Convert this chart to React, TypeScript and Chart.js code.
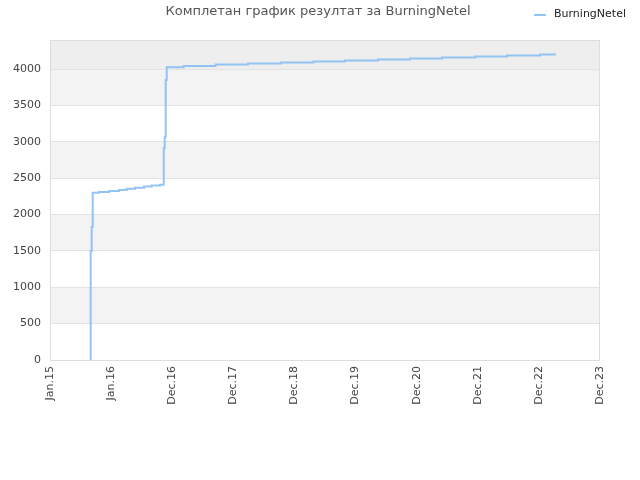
import React, { useEffect, useRef } from "react";
import { Chart, registerables } from "chart.js";

Chart.register(...registerables);

const TITLE = "Комплетан график резултат за BurningNetel";
const SERIES_NAME = "BurningNetel";
const TICK_LABELS = ["Jan.15", "Jan.16", "Dec.16", "Dec.17", "Dec.18", "Dec.19", "Dec.20", "Dec.21", "Dec.22", "Dec.23"];

// x in tick-interval units (0 = Jan.15, 9 = Dec.23), y = cumulative score
const POINT_X = [
  0.666, 0.666, 0.682, 0.699, 0.802, 0.97, 1.129, 1.255, 1.391, 1.538, 1.664, 1.8,
  1.861, 1.877, 1.893, 1.91, 2.188, 2.708, 3.24, 3.78, 4.312, 4.827, 5.367, 5.891,
  6.415, 6.955, 7.478, 8.018, 8.28,
];
const POINT_Y = [
  0, 1500, 1830, 2300, 2310, 2323, 2337, 2355, 2370, 2385, 2400, 2410,
  2910, 3070, 3850, 4025, 4043, 4062, 4076, 4090, 4103, 4117, 4131, 4145,
  4158, 4172, 4186, 4200, 4200,
];

const Y_MAX = 4400;
const Y_STEP = 500;
const LINE_COLOR = "rgba(136,190,242,0.9)";
const FONT = "'DejaVu Sans', sans-serif";

const decorPlugin = {
  id: "decor",
  beforeDraw(chart: any) {
    const { ctx, chartArea: a, scales } = chart;
    const y = scales.y;
    ctx.save();
    for (let v = 0; v < Y_MAX; v += Y_STEP) {
      const top = y.getPixelForValue(Math.min(v + Y_STEP, Y_MAX));
      const bot = y.getPixelForValue(v);
      const idx = v / Y_STEP;
      let color: string | null = idx % 2 === 1 ? "#f3f3f3" : null;
      if (v + Y_STEP > 4000) color = "#eeeeee";
      if (color) {
        ctx.fillStyle = color;
        ctx.fillRect(a.left, top, a.right - a.left, bot - top);
      }
    }
    ctx.restore();
  },
  afterDraw(chart: any) {
    const { ctx, chartArea: a } = chart;
    ctx.save();
    ctx.strokeStyle = "#dddddd";
    ctx.lineWidth = 1;
    ctx.strokeRect(a.left + 0.5, a.top + 0.5, a.right - a.left - 1, a.bottom - a.top);
    // title
    ctx.fillStyle = "#555555";
    ctx.font = `13px ${FONT}`;
    ctx.textAlign = "center";
    ctx.textBaseline = "middle";
    ctx.fillText(TITLE, 318, 12);
    // legend
    ctx.strokeStyle = LINE_COLOR;
    ctx.lineWidth = 2;
    ctx.beginPath();
    ctx.moveTo(534, 15);
    ctx.lineTo(546, 15);
    ctx.stroke();
    ctx.fillStyle = "#222222";
    ctx.font = `11px ${FONT}`;
    ctx.textAlign = "left";
    ctx.fillText(SERIES_NAME, 554, 14);
    ctx.restore();
  },
};

export default function App() {
  const ref = useRef<HTMLCanvasElement | null>(null);
  useEffect(() => {
    document.body.style.margin = "0";
    const data = POINT_X.map((x, i) => ({ x, y: POINT_Y[i] }));
    const chart = new Chart(ref.current as HTMLCanvasElement, {
      type: "line",
      data: {
        datasets: [
          {
            label: SERIES_NAME,
            data,
            borderColor: LINE_COLOR,
            borderWidth: 2,
            pointRadius: 0,
            stepped: true,
            fill: false,
          },
        ],
      },
      plugins: [decorPlugin],
      options: {
        animation: false,
        responsive: false,
        maintainAspectRatio: false,
        layout: { padding: { top: 40, right: 40, left: 0, bottom: 0 } },
        plugins: {
          legend: { display: false },
          title: { display: false },
          tooltip: { enabled: false },
        },
        scales: {
          x: {
            type: "linear",
            min: 0,
            max: TICK_LABELS.length - 1,
            afterBuildTicks: (s: any) => {
              s.ticks = TICK_LABELS.map((_, i) => ({ value: i }));
            },
            grid: { display: false, drawTicks: false },
            border: { display: false },
            afterFit: (s: any) => {
              s.height = 120;
            },
            ticks: {
              autoSkip: false,
              maxRotation: 90,
              minRotation: 90,
              padding: 6,
              color: "#444444",
              font: { family: FONT, size: 11 },
              callback: (v: any) => TICK_LABELS[Math.round(Number(v))] ?? "",
            },
          },
          y: {
            min: 0,
            max: Y_MAX,
            afterBuildTicks: (s: any) => {
              const t = [];
              for (let v = 0; v <= 4000; v += Y_STEP) t.push({ value: v });
              s.ticks = t;
            },
            afterFit: (s: any) => {
              s.width = 50;
            },
            grid: { color: "#e3e3e3", drawTicks: false },
            border: { display: false },
            ticks: {
              padding: 9,
              color: "#444444",
              font: { family: FONT, size: 11 },
              callback: (v: any) => String(v),
            },
          },
        },
      },
    });
    return () => chart.destroy();
  }, []);
  return (
    <div style={{ width: 640, height: 480 }}>
      <canvas ref={ref} width={640} height={480} style={{ display: "block" }} />
    </div>
  );
}
